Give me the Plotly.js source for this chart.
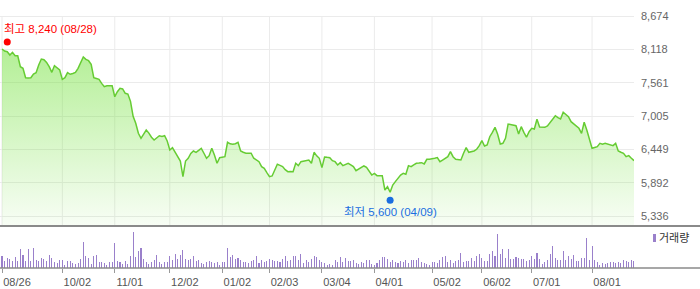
<!DOCTYPE html>
<html><head><meta charset="utf-8">
<script src="https://cdn.plot.ly/plotly-3.0.1.min.js"></script>
<style>html,body{margin:0;padding:0;background:#fff}#chart{width:700px;height:289px}</style>
</head><body><div id="chart"></div>
<script>
// Daily closing prices (trading-day index 0 = 08/26)
const closePrices = [
8123,8090,8078,8023,8068,8011,8011,7828,7801,7644,
7640,7644,7706,7728,7856,7956,7945,7900,7828,7734,
7845,7810,7773,7617,7644,7728,7701,7715,7734,7801,
7900,7990,7950,7928,7868,7644,7630,7617,7550,7494,
7511,7505,7511,7327,7411,7467,7456,7384,7372,7250,
7000,6883,6716,6633,6700,6771,6720,6650,6604,6633,
6676,6665,6676,6588,6438,6476,6400,6310,6254,5992,
6254,6300,6380,6421,6399,6430,6466,6383,6299,6343,
6466,6354,6216,6310,6320,6326,6566,6540,6533,6543,
6566,6421,6400,6383,6385,6383,6300,6271,6243,6160,
6132,6060,5992,6004,6100,6199,6180,6160,6110,6076,
6080,6076,6216,6176,6243,6250,6260,6271,6216,6399,
6340,6299,6143,6321,6315,6310,6260,6243,6188,6226,
6176,6200,6216,6190,6160,6093,6120,6143,6171,6149,
6080,6020,6048,6009,6009,6009,5770,5825,5732,5853,
5910,5965,6020,6048,6032,6176,6160,6190,6216,6220,
6226,6204,6282,6285,6287,6300,6310,6243,6270,6299,
6326,6410,6326,6282,6271,6271,6383,6476,6399,6410,
6421,6449,6510,6593,6504,6521,6659,6733,6816,6700,
6538,6549,6633,6871,6860,6855,6843,6705,6827,6733,
6650,6743,6800,6788,6950,6822,6820,6816,6838,6893,
6938,7010,6977,6955,7067,7022,6994,6910,6870,6827,
6800,6716,6900,6771,6633,6466,6480,6493,6549,6533,
6549,6535,6521,6510,6549,6421,6400,6383,6326,6343,
6300,6260
];
// Daily volume (thousand shares, estimated)
const volumes = [
117,67,100,90,67,107,67,193,133,67,193,67,200,77,67,100,90,67,133,100,
60,50,83,83,33,73,67,50,40,50,90,263,123,100,43,123,133,57,60,50,
33,57,60,250,73,63,43,73,40,117,363,110,173,203,90,57,43,57,83,133,
60,40,57,63,123,83,143,90,130,183,90,77,90,117,67,77,50,43,57,73,
63,50,60,33,57,63,203,110,133,90,100,
83,60,60,50,73,77,123,50,83,57,67,90,83,67,67,60,90,123,73,83,
123,123,83,143,50,77,57,90,123,110,83,63,50,33,40,33,77,57,107,57,
100,67,67,77,50,43,57,50,77,83,40,33,50,77,110,110,90,57,83,57,
50,67,57,77,50,83,83,77,100,57,50,43,33,57,57,50,77,110,123,57,
77,50,67,83,150,57,67,
67,100,67,117,143,100,67,67,140,167,117,343,140,193,100,190,90,90,110,100,
90,90,67,77,123,90,150,90,40,57,83,143,217,100,83,77,173,83,123,90,
133,67,67,100,100,303,77,217,83,57,33,50,43,50,57,57,50,57,50,77,
67,57,77,67
];
const tickIdx = [0,23,43,64,84,102,122,142,164,183,202,225];
const tickLabels = ['08/26','10/02','11/01','12/02','01/02','02/03','03/04','04/01','05/02','06/02','07/01','08/01'];
const priceTicks = [5336,5892,6449,7005,7561,8118,8674];
const highIdx = [2], highVal = [8240], highLabel = ['최고 8,240 (08/28)'];
const lowIdx = [148], lowVal = [5600], lowLabel = ['최저 5,600 (04/09)'];

const idx = closePrices.map((_, i) => i);
const FONT = 'Liberation Sans, Arial, Noto Sans CJK KR, sans-serif';
const yRange = [5169.1, 8941];
const volDom = 42/268;

const traces = [
  {x: idx, y: closePrices, type: 'scatter', mode: 'lines', fill: 'tozeroy',
   line: {color: '#66cc33', width: 1.5},
   fillgradient: {type: 'vertical', start: yRange[0], stop: 8240,
     colorscale: [[0, 'rgba(113,225,57,0.05)'], [1, 'rgba(113,225,57,0.55)']]},
   hoverinfo: 'skip', xaxis: 'x', yaxis: 'y'},
  {x: highIdx, y: highVal, type: 'scatter', mode: 'markers',
   marker: {color: '#ff0000', size: 7}, xaxis: 'x', yaxis: 'y', hoverinfo: 'skip'},
  {x: lowIdx, y: lowVal, type: 'scatter', mode: 'markers',
   marker: {color: '#1a6ee0', size: 7}, xaxis: 'x', yaxis: 'y', hoverinfo: 'skip'},
  {x: idx, y: volumes, type: 'bar', width: 0.4,
   marker: {color: '#9a80cb', line: {width: 0}},
   xaxis: 'x', yaxis: 'y2', hoverinfo: 'skip'}
];

const shapes = tickIdx.map(t => ({type: 'line', xref: 'x', yref: 'y', x0: t, x1: t,
  y0: yRange[0], y1: priceTicks[priceTicks.length - 1], layer: 'below',
  line: {color: '#ebebeb', width: 1}}));
shapes.push({type: 'line', xref: 'paper', yref: 'paper', x0: 0, x1: 700/634, y0: volDom, y1: volDom,
  line: {color: '#8a8a8a', width: 2}});
shapes.push({type: 'line', xref: 'paper', yref: 'paper', x0: 0, x1: 700/634, y0: 0, y1: 0,
  line: {color: '#8a8a8a', width: 1.5}});
shapes.push({type: 'rect', xref: 'paper', yref: 'paper', x0: 653/634, x1: 656/634,
  y0: (268-242)/268, y1: (268-234)/268, fillcolor: '#9a80cb', line: {width: 0}});

const annotations = [
  {x: highIdx[0], y: highVal[0], xref: 'x', yref: 'y', text: highLabel[0], showarrow: false,
   xanchor: 'left', yanchor: 'middle', xshift: -5, yshift: 13,
   font: {family: FONT, size: 11.5, color: '#ff0000'}},
  {x: lowIdx[0], y: lowVal[0], xref: 'x', yref: 'y', text: lowLabel[0], showarrow: false,
   xanchor: 'center', yanchor: 'middle', yshift: -12,
   font: {family: FONT, size: 11.5, color: '#1a6ee0'}},
  {x: 657/634, y: (268-238)/268, xref: 'paper', yref: 'paper', text: '거래량', showarrow: false,
   xanchor: 'left', yanchor: 'middle', font: {family: FONT, size: 11, color: '#333'}}
];

const layout = {
  width: 700, height: 289,
  margin: {l: 0, r: 66, t: 0, b: 21, pad: 0},
  paper_bgcolor: '#fff', plot_bgcolor: '#fff',
  showlegend: false,
  xaxis: {range: [-0.763, 241], anchor: 'y2', showgrid: false, zeroline: false, showline: false,
    tickvals: tickIdx, ticktext: tickLabels, ticks: 'outside', ticklen: 4, tickcolor: '#999',
    tickfont: {family: FONT, size: 11, color: '#555'}, ticklabelshift: 15, fixedrange: true},
  yaxis: {domain: [volDom, 1], range: yRange, side: 'right', anchor: 'x',
    tickvals: priceTicks, ticktext: priceTicks.map(v => v.toLocaleString('en-US')),
    gridcolor: '#ebebeb', gridwidth: 1, zeroline: false, showline: false, ticks: '',
    ticklabelstandoff: 6, tickfont: {family: FONT, size: 11, color: '#666'}},
  yaxis2: {domain: [0, volDom], range: [0, 420], anchor: 'x', showgrid: false,
    showticklabels: false, zeroline: false, ticks: ''},
  bargap: 0,
  shapes: shapes,
  annotations: annotations
};

Plotly.newPlot('chart', traces, layout, {displayModeBar: false, staticPlot: true});
</script>
</body></html>
